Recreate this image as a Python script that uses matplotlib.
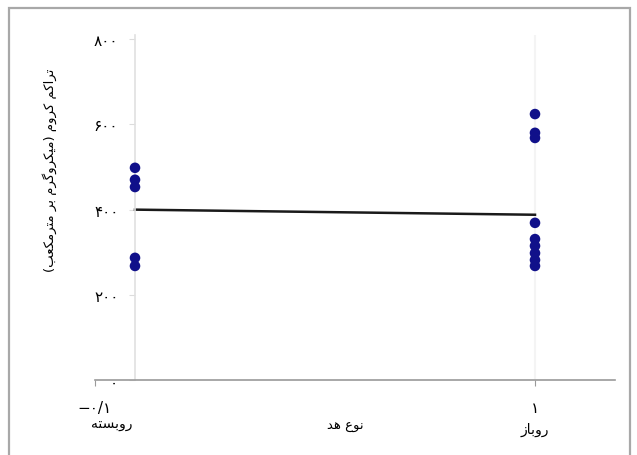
import matplotlib
matplotlib.use("Agg")
import matplotlib.pyplot as plt
from matplotlib.patches import Rectangle

# ---------------- data ----------------
categories = ["روبسته", "روباز"]
group_x = [0, 1]
closed_values = [498, 470, 453, 287, 268]
open_values = [624, 580, 568, 369, 331, 315, 298, 282, 268]
fit_values = [400, 388]
ytick_values = [0, 200, 400, 600, 800]
ytick_labels = ["۰", "۲۰۰", "۴۰۰", "۶۰۰", "۸۰۰"]
xtick_values = [-0.1, 1]
xtick_labels = ["−۰/۱", "۱"]
x_title = "نوع هد"
y_title = "تراکم کروم (میکروگرم بر مترمکعب)"

# ------------- simple Persian shaping (presentation forms, visual order) -------------
FORMS = {
    'ا': ('\uFE8D', '\uFE8E', None, None),
    'ب': ('\uFE8F', '\uFE90', '\uFE91', '\uFE92'),
    'ت': ('\uFE95', '\uFE96', '\uFE97', '\uFE98'),
    'د': ('\uFEA9', '\uFEAA', None, None),
    'ر': ('\uFEAD', '\uFEAE', None, None),
    'ز': ('\uFEAF', '\uFEB0', None, None),
    'س': ('\uFEB1', '\uFEB2', '\uFEB3', '\uFEB4'),
    'ع': ('\uFEC9', '\uFECA', '\uFECB', '\uFECC'),
    'م': ('\uFEE1', '\uFEE2', '\uFEE3', '\uFEE4'),
    'ن': ('\uFEE5', '\uFEE6', '\uFEE7', '\uFEE8'),
    'ه': ('\uFEE9', '\uFEEA', '\uFEEB', '\uFEEC'),
    'و': ('\uFEED', '\uFEEE', None, None),
    'ک': ('\uFB8E', '\uFB8F', '\uFB90', '\uFB91'),
    'گ': ('\uFB92', '\uFB93', '\uFB94', '\uFB95'),
    'ی': ('\uFBFC', '\uFBFD', '\uFBFE', '\uFBFF'),
}


def shape(s):
    out = []
    for i, c in enumerate(s):
        if c not in FORMS:
            out.append(c)
            continue
        prev = s[i - 1] if i > 0 else None
        nxt = s[i + 1] if i + 1 < len(s) else None
        jp = prev in FORMS and FORMS[prev][2] is not None
        jn = nxt in FORMS and FORMS[c][2] is not None
        iso, fin, ini, med = FORMS[c]
        if jp and jn:
            g = med
        elif jp:
            g = fin
        elif jn:
            g = ini
        else:
            g = iso
        out.append(g)
    vis = ''.join(reversed(out))
    return vis.translate(str.maketrans('()', ')('))


plt.rcParams['font.family'] = ['DejaVu Sans']

W, H = 637, 456
fig = plt.figure(figsize=(W / 100, H / 100), dpi=100)
fig.patch.set_facecolor('white')

# outer frame
fig.patches.append(Rectangle((9 / W, -0.05), (630 - 9) / W, 1 - 9 / H + 0.05,
                             transform=fig.transFigure, fill=False,
                             edgecolor='#a8a8a8', linewidth=1.6))

ax = fig.add_axes([95 / W, 1 - 381.3 / H, 520 / W, (381.3 - 35.7) / H])
ax.set_xlim(-0.1, 1.2)
ax.set_ylim(0, 810)

ax.axvline(group_x[1], color='#f4f4f4', lw=1.5, zorder=0)

ax.scatter([group_x[0]] * len(closed_values), closed_values, s=58,
           color='#10108a', edgecolors='none', zorder=3)
ax.scatter([group_x[1]] * len(open_values), open_values, s=58,
           color='#10108a', edgecolors='none', zorder=3)
ax.plot(group_x, fit_values, color='#1a1a1a', lw=1.8, zorder=2)

for s in ['top', 'right']:
    ax.spines[s].set_visible(False)
ax.spines['left'].set_position(('data', 0))
ax.spines['left'].set_color('#e0e0e0')
ax.spines['left'].set_linewidth(1.2)
ax.spines['bottom'].set_color('#9a9a9a')
ax.spines['bottom'].set_linewidth(1.2)

ax.set_yticks(ytick_values)
ax.set_yticklabels(ytick_labels, fontsize=11)
ax.tick_params(axis='y', length=4, color='#dcdcdc', pad=8)

ax.set_xticks(xtick_values)
ax.set_xticklabels(xtick_labels, fontsize=11)
ax.tick_params(axis='x', length=4, color='#9a9a9a', pad=10)

fig.text(112 / W, 1 - 424 / H, shape(categories[0]), ha='center', va='center', fontsize=10)
fig.text(535 / W, 1 - 430 / H, shape(categories[1]), ha='center', va='center', fontsize=10)
fig.text(345 / W, 1 - 427 / H, shape(x_title), ha='center', va='center', fontsize=9.5)
fig.text(50 / W, 1 - 170 / H, shape(y_title), ha='center', va='center',
         rotation=90, fontsize=9.5)

fig.savefig('out.png', dpi=100, facecolor='white')
